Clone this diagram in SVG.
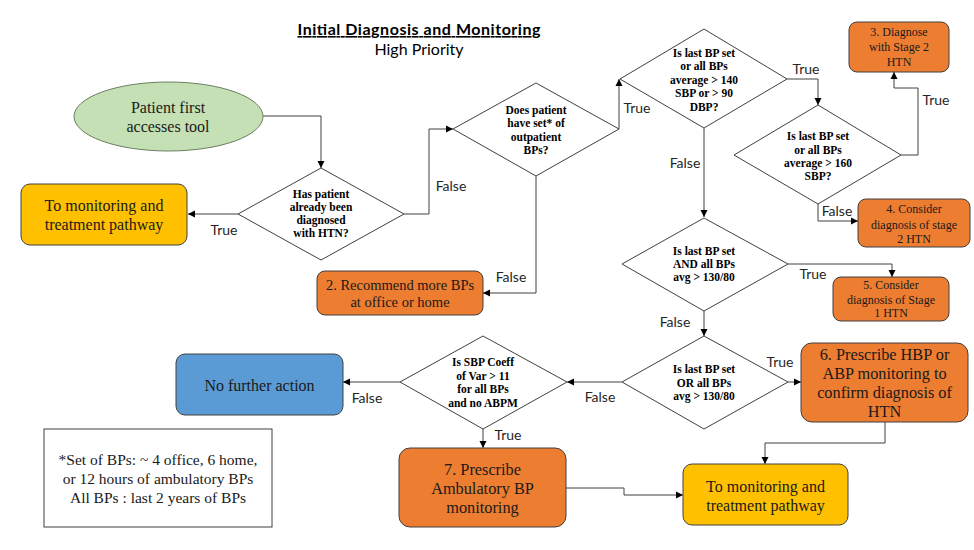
<svg xmlns="http://www.w3.org/2000/svg" width="974" height="550" viewBox="0 0 974 550">
<defs>
<marker id="arr" markerUnits="userSpaceOnUse" markerWidth="8" markerHeight="8" refX="7" refY="4" orient="auto">
<path d="M0,0.5 L7,4 L0,7.5 z" fill="#000"/>
</marker>
<style>
.bg{fill:#fff}
.dia{fill:#fff;stroke:#404040;stroke-width:1}
.box{stroke:#404040;stroke-width:1}
.org{fill:#ed7d31}
.yel{fill:#ffc000}
.blu{fill:#5b9bd5}
.grn{fill:#c5e0b4;stroke:#6b7f60;stroke-width:1}
.note{fill:#fff;stroke:#404040;stroke-width:1}
.dt{font-family:"Liberation Serif","Times New Roman",serif;font-weight:bold;font-size:11.5px;fill:#000;text-anchor:middle}
.bt{font-family:"Liberation Serif","Times New Roman",serif;font-size:16px;fill:#1a1a1a;text-anchor:middle}
.bt17{font-family:"Liberation Serif","Times New Roman",serif;font-size:16.3px;fill:#1a1a1a;text-anchor:middle}
.bt14{font-family:"Liberation Serif","Times New Roman",serif;font-size:14.5px;fill:#1a1a1a;text-anchor:middle}
.nt{font-family:"Liberation Serif","Times New Roman",serif;font-size:15.5px;fill:#1a1a1a;text-anchor:middle}
.st{font-family:"Liberation Serif","Times New Roman",serif;font-size:12px;fill:#1a1a1a;text-anchor:middle}
.lb{font-family:Lato,"Liberation Sans",sans-serif;font-size:14px;fill:#262626;text-anchor:middle}
.con{fill:none;stroke:#404040;stroke-width:1;marker-end:url(#arr)}
</style>
</defs>
<rect class="bg" x="0" y="0" width="974" height="550"/>
<g id="title">
<text x="419" y="35" font-family="Lato,'Liberation Sans',sans-serif" font-weight="bold" font-size="16px" text-anchor="middle" text-decoration="underline" textLength="243" fill="#000">Initial Diagnosis and Monitoring</text>
<text x="419" y="55" font-family="Lato,'Liberation Sans',sans-serif" font-size="16px" text-anchor="middle" fill="#000">High Priority</text>
</g>
<g id="connectors">
<path class="con" d="M263,116 H321 V168"/>
<path class="con" d="M238,214 H188"/>
<path class="con" d="M404,214 H429 V129 H453"/>
<path class="con" d="M619,129 V79"/>
<path class="con" d="M536,176 V293 H483"/>
<path class="con" d="M787,79 H818 V105"/>
<path class="con" d="M901,155 H918 V88 H894 V72"/>
<path class="con" d="M818,204 V221 H858"/>
<path class="con" d="M704,128 V217"/>
<path class="con" d="M788,264 H892 V277"/>
<path class="con" d="M704,311 V336"/>
<path class="con" d="M788,382 H801"/>
<path class="con" d="M622,382 H567"/>
<path class="con" d="M400,382 H343"/>
<path class="con" d="M483,429 V448"/>
<path class="con" d="M885,422 V443 H765 V464"/>
<path class="con" d="M566,488 H624 V495 H683"/>
<text class="lb" x="224" y="235">True</text>
<text class="lb" x="451" y="191">False</text>
<text class="lb" x="637" y="113">True</text>
<text class="lb" x="806" y="74">True</text>
<text class="lb" x="936" y="105">True</text>
<text class="lb" x="685" y="168">False</text>
<text class="lb" x="837" y="216">False</text>
<text class="lb" x="813" y="279">True</text>
<text class="lb" x="675" y="327">False</text>
<text class="lb" x="780" y="367">True</text>
<text class="lb" x="600" y="402">False</text>
<text class="lb" x="367" y="403">False</text>
<text class="lb" x="508" y="440">True</text>
<text class="lb" x="511" y="282">False</text>
</g>
<g id="start">
<ellipse class="grn" cx="168.5" cy="116.5" rx="94.5" ry="34.5"/>
<text class="bt" x="168" y="113">Patient first</text>
<text class="bt" x="168" y="132">accesses tool</text>
</g>
<g id="q1">
<polygon class="dia" points="321,168 404,214 321,260 238,214"/>
<text class="dt" x="321" y="198">Has patient</text>
<text class="dt" x="321" y="211">already been</text>
<text class="dt" x="321" y="224">diagnosed</text>
<text class="dt" x="321" y="237">with HTN?</text>
</g>
<g id="monitor1">
<rect class="box yel" x="21" y="184" width="166" height="61" rx="9"/>
<text class="bt" x="104" y="211">To monitoring and</text>
<text class="bt" x="104" y="230">treatment pathway</text>
</g>
<g id="q2">
<polygon class="dia" points="536,83 619,129 536,176 453,129"/>
<text class="dt" x="536" y="114">Does patient</text>
<text class="dt" x="536" y="127">have set* of</text>
<text class="dt" x="536" y="141">outpatient</text>
<text class="dt" x="536" y="154">BPs?</text>
</g>
<g id="box2">
<rect class="box org" x="317" y="271" width="166" height="44" rx="8"/>
<text class="bt14" x="400" y="290">2. Recommend more BPs</text>
<text class="bt14" x="400" y="307">at office or home</text>
</g>
<g id="q3">
<polygon class="dia" points="704,29 787,79 704,128 620,79"/>
<text class="dt" x="704" y="57">Is last BP set</text>
<text class="dt" x="704" y="70">or all BPs</text>
<text class="dt" x="704" y="84">average &gt; 140</text>
<text class="dt" x="704" y="97">SBP or &gt; 90</text>
<text class="dt" x="704" y="111">DBP?</text>
</g>
<g id="q4">
<polygon class="dia" points="818,105 901,155 818,204 734,155"/>
<text class="dt" x="818" y="140">Is last BP set</text>
<text class="dt" x="818" y="154">or all BPs</text>
<text class="dt" x="818" y="167">average &gt; 160</text>
<text class="dt" x="818" y="180">SBP?</text>
</g>
<g id="box3">
<rect class="box org" x="849" y="22" width="100" height="50" rx="8"/>
<text class="st" x="899" y="36">3. Diagnose</text>
<text class="st" x="899" y="51">with Stage 2</text>
<text class="st" x="899" y="66">HTN</text>
</g>
<g id="box4">
<rect class="box org" x="858" y="199" width="112" height="48" rx="8"/>
<text class="st" x="914" y="213">4. Consider</text>
<text class="st" x="914" y="229">diagnosis of stage</text>
<text class="st" x="914" y="243">2 HTN</text>
</g>
<g id="q5">
<polygon class="dia" points="704,218 788,264 704,311 622,264"/>
<text class="dt" x="704" y="255">Is last BP set</text>
<text class="dt" x="704" y="268">AND all BPs</text>
<text class="dt" x="704" y="281">avg &gt; 130/80</text>
</g>
<g id="box5">
<rect class="box org" x="833" y="277" width="116" height="44" rx="8"/>
<text class="st" x="891" y="289">5. Consider</text>
<text class="st" x="891" y="304">diagnosis of Stage</text>
<text class="st" x="891" y="317">1 HTN</text>
</g>
<g id="q6">
<polygon class="dia" points="704,336 788,382 704,429 622,382"/>
<text class="dt" x="704" y="373">Is last BP set</text>
<text class="dt" x="704" y="387">OR all BPs</text>
<text class="dt" x="704" y="400">avg &gt; 130/80</text>
</g>
<g id="box6">
<rect class="box org" x="801" y="343" width="167" height="79" rx="11"/>
<text class="bt17" x="884.5" y="360">6. Prescribe HBP or</text>
<text class="bt17" x="884.5" y="379">ABP monitoring to</text>
<text class="bt17" x="884.5" y="398">confirm diagnosis of</text>
<text class="bt17" x="884.5" y="417">HTN</text>
</g>
<g id="q7">
<polygon class="dia" points="483,336 567,382 483,429 400,382"/>
<text class="dt" x="483" y="366">Is SBP Coeff</text>
<text class="dt" x="483" y="380">of Var &gt; 11</text>
<text class="dt" x="483" y="393">for all BPs</text>
<text class="dt" x="483" y="407">and no ABPM</text>
</g>
<g id="nofurther">
<rect class="box blu" x="176" y="354" width="167" height="61" rx="9"/>
<text class="bt" x="259.5" y="391">No further action</text>
</g>
<g id="box7">
<rect class="box org" x="399" y="448" width="167" height="79" rx="11"/>
<text class="bt17" x="482.5" y="475">7. Prescribe</text>
<text class="bt17" x="482.5" y="494">Ambulatory BP</text>
<text class="bt17" x="482.5" y="513">monitoring</text>
</g>
<g id="monitor2">
<rect class="box yel" x="683" y="464" width="165" height="61" rx="9"/>
<text class="bt" x="765.5" y="492">To monitoring and</text>
<text class="bt" x="765.5" y="511">treatment pathway</text>
</g>
<g id="note">
<rect class="note" x="44" y="429" width="228" height="98"/>
<text class="nt" x="158" y="465">*Set of BPs: ~ 4 office, 6 home,</text>
<text class="nt" x="158" y="484">or 12 hours of ambulatory BPs</text>
<text class="nt" x="158" y="503">All BPs : last 2 years of BPs</text>
</g>
</svg>
